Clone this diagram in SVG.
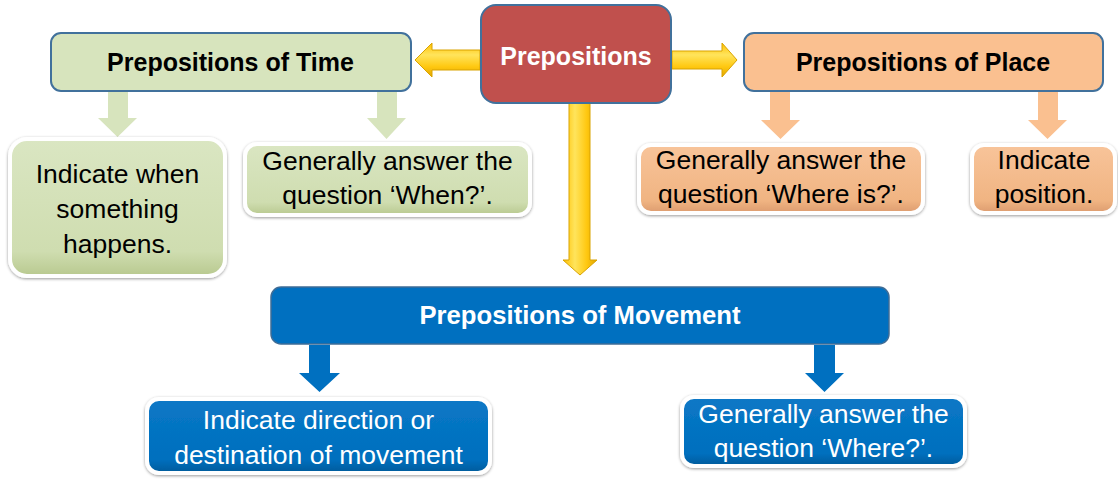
<svg xmlns="http://www.w3.org/2000/svg" width="1118" height="479" viewBox="0 0 1118 479">
  <defs>
    <linearGradient id="gGreen" x1="0" y1="0" x2="0" y2="1">
      <stop offset="0" stop-color="#DAE6C2"/>
      <stop offset="0.82" stop-color="#CFDDB0"/>
      <stop offset="1" stop-color="#B8C98F"/>
    </linearGradient>
    <linearGradient id="gOrange" x1="0" y1="0" x2="0" y2="1">
      <stop offset="0" stop-color="#F8C49A"/>
      <stop offset="0.82" stop-color="#F0B482"/>
      <stop offset="1" stop-color="#DC9B6E"/>
    </linearGradient>
    <linearGradient id="gBlue" x1="0" y1="0" x2="0" y2="1">
      <stop offset="0" stop-color="#0A78C6"/>
      <stop offset="0.82" stop-color="#006FBE"/>
      <stop offset="1" stop-color="#005A9A"/>
    </linearGradient>
    <linearGradient id="gYellowH" x1="0" y1="0" x2="0" y2="1">
      <stop offset="0" stop-color="#FFC000"/>
      <stop offset="0.35" stop-color="#FFE45C"/>
      <stop offset="0.7" stop-color="#FFC810"/>
      <stop offset="1" stop-color="#E0A500"/>
    </linearGradient>
    <linearGradient id="gYellowV" x1="0" y1="0" x2="1" y2="0">
      <stop offset="0" stop-color="#FFC000"/>
      <stop offset="0.35" stop-color="#FFE45C"/>
      <stop offset="0.7" stop-color="#FFC810"/>
      <stop offset="1" stop-color="#E0A500"/>
    </linearGradient>
    <filter id="sh" x="-10%" y="-10%" width="120%" height="130%">
      <feDropShadow dx="0" dy="1" stdDeviation="1.5" flood-color="#000" flood-opacity="0.4"/>
    </filter>
  </defs>
  <style>
    .title { font-family: "Liberation Sans", Arial, sans-serif; font-weight: bold; font-size: 25px; text-anchor: middle; }
    .txt { font-family: "Liberation Sans", Arial, sans-serif; font-size: 26.5px; text-anchor: middle; }
    .dark { fill: #000; }
    .light { fill: #fff; }
    .main { stroke: #41719C; stroke-width: 2; }
    .sub { stroke: #fff; stroke-width: 4; filter: url(#sh); }
    .yel { stroke: #D9A300; stroke-width: 1; }
  </style>

  <g id="connectors">
    <path class="yel" fill="url(#gYellowH)" d="M480,50 L432,50 L432,43 L415,60 L432,77 L432,70 L480,70 Z"/>
    <path class="yel" fill="url(#gYellowH)" d="M672,51 L722,51 L722,43 L737,60 L722,77 L722,69 L672,69 Z"/>
    <path class="yel" fill="url(#gYellowV)" d="M569,103 L569,260 L563,260 L580,275 L597,260 L590,260 L590,103 Z"/>
    <path fill="#D7E4BD" d="M108,92 L108,118 L98,118 L117.5,137 L137,118 L128,118 L128,92 Z"/>
    <path fill="#D7E4BD" d="M377,92 L377,118 L367,118 L386.5,139 L406,118 L397,118 L397,92 Z"/>
    <path fill="#FAC090" d="M770,92 L770,120 L761,120 L780.5,139 L800,120 L790,120 L790,92 Z"/>
    <path fill="#FAC090" d="M1038,92 L1038,120 L1028,120 L1047.5,139 L1067,120 L1058,120 L1058,92 Z"/>
    <path fill="#0070C0" d="M309,345 L309,373 L299,373 L319.5,392 L340,373 L330,373 L330,345 Z"/>
    <path fill="#0070C0" d="M814,345 L814,373 L805,373 L824.5,392 L844,373 L835,373 L835,345 Z"/>
  </g>

  <g id="prepositions">
    <rect class="main" x="481" y="5" width="190" height="98" rx="15" fill="#C0504D" stroke="#3F628C"/>
    <text class="title light" x="576" y="65">Prepositions</text>
  </g>

  <g id="time">
    <rect class="main" x="51" y="33" width="360" height="58" rx="10" fill="#D7E4BD"/>
    <text class="title dark" x="230.5" y="71">Prepositions of Time</text>
  </g>

  <g id="place">
    <rect class="main" x="744" y="33" width="359" height="58" rx="10" fill="#FAC090"/>
    <text class="title dark" x="923" y="71">Prepositions of Place</text>
  </g>

  <g id="movement">
    <rect x="271" y="287" width="618" height="57" rx="10" fill="#0070C0" stroke="#3E6C96" stroke-width="1.5"/>
    <text class="title light" x="580" y="324" style="font-size:25.7px">Prepositions of Movement</text>
  </g>

  <g id="time-when">
    <rect class="sub" x="10" y="139" width="215" height="137" rx="17" fill="url(#gGreen)"/>
    <text class="txt dark" x="117.5" y="183">Indicate when</text>
    <text class="txt dark" x="117.5" y="218">something</text>
    <text class="txt dark" x="117.5" y="253">happens.</text>
  </g>

  <g id="time-question">
    <rect class="sub" x="245" y="144" width="285" height="71" rx="12" fill="url(#gGreen)"/>
    <text class="txt dark" x="387.5" y="170">Generally answer the</text>
    <text class="txt dark" x="387.5" y="204">question ‘When?’.</text>
  </g>

  <g id="place-question">
    <rect class="sub" x="639" y="145" width="284" height="68" rx="12" fill="url(#gOrange)"/>
    <text class="txt dark" x="781" y="169">Generally answer the</text>
    <text class="txt dark" x="781" y="203">question ‘Where is?’.</text>
  </g>

  <g id="place-position">
    <rect class="sub" x="972" y="145" width="143" height="68" rx="12" fill="url(#gOrange)"/>
    <text class="txt dark" x="1044" y="169">Indicate</text>
    <text class="txt dark" x="1044" y="203">position.</text>
  </g>

  <g id="movement-direction">
    <rect class="sub" x="147" y="399" width="343" height="74" rx="12" fill="url(#gBlue)"/>
    <text class="txt light" x="318.5" y="429">Indicate direction or</text>
    <text class="txt light" x="318.5" y="464">destination of movement</text>
  </g>

  <g id="movement-question">
    <rect class="sub" x="682" y="397" width="283" height="69" rx="12" fill="url(#gBlue)"/>
    <text class="txt light" x="823.5" y="423">Generally answer the</text>
    <text class="txt light" x="823.5" y="457">question ‘Where?’.</text>
  </g>
</svg>
